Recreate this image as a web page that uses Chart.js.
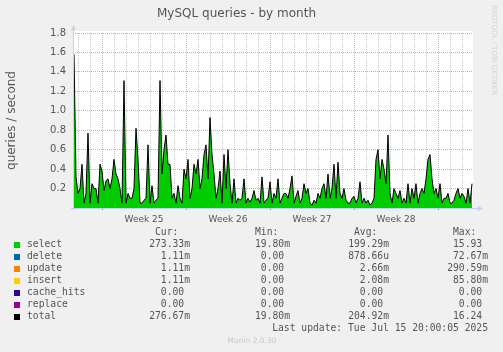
<!DOCTYPE html>
<html>
<head>
<meta charset="utf-8">
<script src="https://cdn.jsdelivr.net/npm/chart.js@4.4.1/dist/chart.umd.min.js"></script>
<style>
  html, body { margin: 0; padding: 0; background: #f0f0f0; }
</style>
</head>
<body>
<canvas id="mysqlChart" width="503" height="352"></canvas>
<script>
// select queries/s, one reading every 4 hours
const selectValues = [
  1.58, 0.32, 0.15, 0.2, 0.45, 0.05, 0.15, 0.77, 0.05, 0.25,
  0.2, 0.2, 0.05, 0.45, 0.38, 0.18, 0.28, 0.3, 0.2, 0.3,
  0.5, 0.35, 0.3, 0.2, 0.05, 1.31, 0.05, 0.15, 0.1, 0.1,
  0.2, 0.82, 0.5, 0.05, 0.05, 0.08, 0.1, 0.65, 0.05, 0.23,
  0.05, 0.08, 0.1, 1.31, 0.35, 0.6, 0.75, 0.45, 0.45, 0.1,
  0.15, 0.05, 0.23, 0.1, 0.05, 0.4, 0.3, 0.5, 0.1, 0.2,
  0.45, 0.35, 0.5, 0.2, 0.3, 0.55, 0.65, 0.3, 0.93, 0.55,
  0.35, 0.1, 0.2, 0.38, 0.05, 0.55, 0.2, 0.6, 0.25, 0.05,
  0.3, 0.05, 0.1, 0.08, 0.1, 0.3, 0.05, 0.1, 0.06, 0.1,
  0.18, 0.08, 0.1, 0.05, 0.32, 0.05, 0.08, 0.1, 0.27, 0.05,
  0.15, 0.1, 0.3, 0.05, 0.1, 0.15, 0.15, 0.1, 0.2, 0.33,
  0.05, 0.12, 0.18, 0.05, 0.1, 0.25, 0.15, 0.2, 0.05, 0.03,
  0.08, 0.05, 0.15, 0.1, 0.2, 0.25, 0.1, 0.35, 0.1, 0.2,
  0.45, 0.1, 0.47, 0.15, 0.1, 0.2, 0.08, 0.05, 0.05, 0.1,
  0.12, 0.05, 0.1, 0.27, 0.05, 0.1, 0.05, 0.08, 0.03, 0.05,
  0.1, 0.5, 0.6, 0.3, 0.5, 0.4, 0.25, 0.75, 0.15, 0.05,
  0.2, 0.15, 0.1, 0.18, 0.05, 0.1, 0.05, 0.25, 0.05, 0.2,
  0.1, 0.25, 0.05, 0.15, 0.2, 0.15, 0.3, 0.5, 0.55, 0.3,
  0.15, 0.2, 0.1, 0.25, 0.05, 0.1, 0.1, 0.15, 0.05, 0.05,
  0.08, 0.15, 0.2, 0.1, 0.15, 0.12, 0.05, 0.2, 0.05, 0.25
];
const stepHours = 4;

const weekLabels = ["Week 25", "Week 26", "Week 27", "Week 28"];
const weekCentres = [140, 308, 476, 644];    // hours from first reading
const weekStarts = [56, 224, 392, 560, 728];

const legendNames = ["select", "delete", "update", "insert", "cache_hits", "replace", "total"];
const legendColors = ["#00cc00", "#0066b3", "#ff8000", "#ffcc00", "#330099", "#990099", "#000000"];
const curValues = ["273.33m", "1.11m", "1.11m", "1.11m", "0.00", "0.00", "276.67m"];
const minValues = ["19.80m", "0.00", "0.00", "0.00", "0.00", "0.00", "19.80m"];
const avgValues = ["199.29m", "878.66u", "2.66m", "2.08m", "0.00", "0.00", "204.92m"];
const maxValues = ["15.93", "72.67m", "290.59m", "85.80m", "0.00", "0.00", "16.24"];

const textColor = "#555";
const gridGray = "#c8c8c8";
const gridRed = "#eea0a0";
const axisColor = "#c8cff4";

const points = selectValues.map((v, i) => ({ x: i * stepHours, y: v }));

// day lines every 24h
const dayHours = [];
for (let h = 8; h < 800; h += 24) dayHours.push(h);

const muninFrame = {
  id: "muninFrame",
  beforeDraw(chart) {
    const { ctx, chartArea: a } = chart;
    ctx.save();
    ctx.fillStyle = "#f0f0f0";
    ctx.fillRect(0, 0, chart.width, chart.height);
    ctx.fillStyle = "#ffffff";
    ctx.fillRect(a.left, a.top - 2, a.right - a.left, a.bottom - a.top + 2);
    ctx.restore();
  },
  afterDatasetsDraw(chart) {
    const { ctx, chartArea: a } = chart;
    ctx.save();
    ctx.strokeStyle = axisColor;
    ctx.fillStyle = axisColor;
    ctx.lineWidth = 1;
    ctx.beginPath();
    ctx.moveTo(a.left + 0.5, a.bottom + 2);
    ctx.lineTo(a.left + 0.5, a.top - 4);
    ctx.moveTo(a.left - 2, a.bottom + 0.5);
    ctx.lineTo(a.right + 6, a.bottom + 0.5);
    ctx.stroke();
    ctx.beginPath();
    ctx.moveTo(a.left - 2, a.top - 3);
    ctx.lineTo(a.left + 3, a.top - 3);
    ctx.lineTo(a.left + 0.5, a.top - 8);
    ctx.closePath();
    ctx.fill();
    ctx.beginPath();
    ctx.moveTo(a.right + 5, a.bottom - 2);
    ctx.lineTo(a.right + 5, a.bottom + 3);
    ctx.lineTo(a.right + 10, a.bottom + 0.5);
    ctx.closePath();
    ctx.fill();
    ctx.restore();
  },
  afterDraw(chart) {
    const ctx = chart.ctx;
    ctx.save();
    ctx.font = "9.7px 'DejaVu Sans Mono'";
    ctx.textBaseline = "middle";
    const charW = ctx.measureText("0").width;
    const colRight = [190, 290, 389, 488];
    const headers = ["Cur:", "Min:", "Avg:", "Max:"];
    ctx.fillStyle = textColor;
    ctx.textAlign = "right";
    headers.forEach((h, i) => ctx.fillText(h, colRight[i] - 2 * charW, 232));
    const cols = [curValues, minValues, avgValues, maxValues];
    legendNames.forEach((name, r) => {
      const y = 244 + r * 12;
      ctx.fillStyle = legendColors[r];
      ctx.fillRect(14, y - 2, 6, 6);
      ctx.fillStyle = textColor;
      ctx.textAlign = "left";
      ctx.fillText(name, 27, y);
      ctx.textAlign = "right";
      cols.forEach((col, c) => {
        const s = col[r];
        const pad = /\d$/.test(s) ? charW : 0;
        ctx.fillText(s, colRight[c] - pad, y);
      });
    });
    ctx.fillText("Last update: Tue Jul 15 20:00:05 2025", 488, 328);

    ctx.font = "7.5px 'DejaVu Sans'";
    ctx.fillStyle = "#c8c8c8";
    ctx.textAlign = "center";
    ctx.fillText("Munin 2.0.30", 252, 341);

    ctx.translate(493.5, 5);
    ctx.rotate(Math.PI / 2);
    ctx.font = "7px 'DejaVu Sans'";
    ctx.fillStyle = "#d4d4d4";
    ctx.textAlign = "left";
    ctx.fillText("RRDTOOL / TOBI OETIKER", 0, 0);
    ctx.restore();
  }
};

new Chart(document.getElementById("mysqlChart"), {
  type: "line",
  data: {
    datasets: [
      {
        label: "total",
        data: points,
        borderColor: "#000000",
        borderWidth: 1,
        pointRadius: 0,
        tension: 0,
        fill: false
      },
      {
        label: "select",
        data: points,
        borderWidth: 0,
        borderColor: "#00cc00",
        backgroundColor: "#00cc00",
        pointRadius: 0,
        tension: 0,
        fill: "origin"
      }
    ]
  },
  options: {
    responsive: false,
    animation: false,
    layout: { padding: { left: 0, right: 30, top: 0, bottom: 0 } },
    plugins: {
      legend: { display: false },
      tooltip: { enabled: false },
      title: {
        display: true,
        text: "MySQL queries - by month",
        color: textColor,
        font: { family: "'DejaVu Sans'", size: 12, weight: "normal" },
        padding: { top: 7, bottom: 11.6 }
      }
    },
    scales: {
      x: {
        type: "linear",
        min: -2,
        max: 798,
        afterBuildTicks: (scale) => {
          const all = dayHours.concat(weekCentres).sort((a, b) => a - b);
          scale.ticks = all.map((v) => ({ value: v }));
        },
        afterFit: (scale) => { scale.height = 144; },
        ticks: {
          autoSkip: false,
          maxRotation: 0,
          padding: 4,
          color: textColor,
          font: { family: "'DejaVu Sans'", size: 9 },
          callback: (v) => {
            const i = weekCentres.indexOf(v);
            return i >= 0 ? weekLabels[i] : "";
          }
        },
        grid: {
          color: (c) => {
            const v = c.tick ? c.tick.value : null;
            if (weekCentres.includes(v)) return "rgba(0,0,0,0)";
            return weekStarts.includes(v) ? gridRed : gridGray;
          },
          tickColor: (c) => (c.tick && weekStarts.includes(c.tick.value) ? "#e06060" : "rgba(0,0,0,0)"),
          tickLength: 2,
          borderDash: [1, 1]
        },
        border: { display: false, dash: [1, 1] }
      },
      y: {
        min: 0,
        max: 1.8,
        afterFit: (scale) => { scale.width = 73; },
        ticks: {
          stepSize: 0.1,
          padding: 7,
          color: textColor,
          font: { family: "'DejaVu Sans'", size: 10 },
          callback: (v) => {
            const t = Math.round(v * 10);
            return t > 0 && t % 2 === 0 ? (t / 10).toFixed(1) : "";
          }
        },
        grid: {
          color: (c) => {
            const t = c.tick ? Math.round(c.tick.value * 10) : 0;
            if (t === 0) return "rgba(0,0,0,0)";
            return t % 2 === 0 ? gridRed : gridGray;
          },
          drawTicks: false,
          borderDash: [1, 1]
        },
        border: { display: false, dash: [1, 1] },
        title: {
          display: true,
          text: "queries / second",
          color: textColor,
          font: { family: "'DejaVu Sans'", size: 12 },
          padding: { top: 5, bottom: 0 }
        }
      }
    }
  },
  plugins: [muninFrame]
});
</script>
</body>
</html>
